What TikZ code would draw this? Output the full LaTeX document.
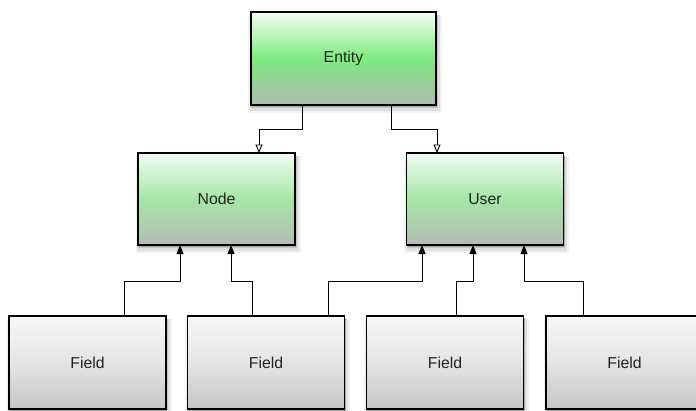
\documentclass[tikz,border=0pt]{standalone}
\usepackage{fontspec}
\setmainfont{Liberation Sans}
\usetikzlibrary{arrows.meta,shadows}

\definecolor{gtop}{HTML}{F4FFF4}
\definecolor{gmid}{HTML}{7EEA7E}
\definecolor{gbot}{HTML}{AEBBAE}
\definecolor{ltop}{HTML}{F2FBF2}
\definecolor{lmid}{HTML}{A6E6A6}
\definecolor{lbot}{HTML}{B3BCB3}
\definecolor{ftop}{HTML}{F8F8F8}
\definecolor{fmid}{HTML}{E4E4E4}
\definecolor{fbot}{HTML}{C6C6C6}
\definecolor{txt}{HTML}{222222}

\tikzset{
  softshadow/.style={
    drop shadow={shadow xshift=1.5pt,shadow yshift=-5pt,opacity=0.05,fill=black,shadow scale=1.05},
    drop shadow={shadow xshift=1.5pt,shadow yshift=-4pt,opacity=0.08,fill=black,shadow scale=1.03},
    drop shadow={shadow xshift=1pt,shadow yshift=-3pt,opacity=0.12,fill=black,shadow scale=1.01},
    drop shadow={shadow xshift=1pt,shadow yshift=-2pt,opacity=0.15,fill=black}},
  box/.style={draw=black,line width=1.1pt,inner sep=0pt,outer sep=0pt,
    text=txt,font=\fontsize{15.8}{18}\selectfont,softshadow},
  rootbox/.style={box,minimum width=185pt,minimum height=93pt,
    top color=gtop,bottom color=gbot,middle color=gmid},
  midbox/.style={box,minimum width=157pt,minimum height=92pt,
    top color=ltop,bottom color=lbot,middle color=lmid},
  fieldbox/.style={box,minimum width=157pt,minimum height=93pt,
    top color=ftop,bottom color=fbot,middle color=fmid},
  inherit/.style={draw=black,line width=0.9pt,
    -{Triangle[open,length=8.5pt,width=7pt,fill=white]}},
  member/.style={draw=black,line width=0.9pt,
    -{Triangle[length=9pt,width=7pt]}},
}

\begin{document}
\begin{tikzpicture}[x=1pt,y=-1pt]
  \useasboundingbox (0,0) rectangle (696,410);
  \clip (0,0) rectangle (696,410);

  % classes
  \node[rootbox] (entity) at (343.5,58.5) {Entity};
  \node[midbox]  (nd)     at (216.5,199)  {Node};
  \node[midbox]  (usr)    at (485,199)    {User};

  % fields
  \node[fieldbox] (f1) at (87.5,362.5) {Field};
  \node[fieldbox] (f2) at (266,362.5)  {Field};
  \node[fieldbox] (f3) at (445,362.5)  {Field};
  \node[fieldbox] (f4) at (624.5,362.5) {Field};

  % generalisation links
  \draw[inherit] ([xshift=-41.5pt]entity.south) -- ++(0,24) -| ([xshift=42.5pt]nd.north);
  \draw[inherit] ([xshift=47.5pt]entity.south) -- ++(0,24) -| ([xshift=-48pt]usr.north);

  % field links
  \draw[member] ([xshift=36.5pt]f1.north) -- ++(0,-35) -| ([xshift=-36.5pt]nd.south);
  \draw[member] ([xshift=-14pt]f2.north) -- ++(0,-35) -| ([xshift=14.5pt]nd.south);
  \draw[member] ([xshift=62pt]f2.north) -- ++(0,-35) -| ([xshift=-63pt]usr.south);
  \draw[member] ([xshift=11pt]f3.north) -- ++(0,-35) -| ([xshift=-12pt]usr.south);
  \draw[member] ([xshift=-41.5pt]f4.north) -- ++(0,-35) -| ([xshift=39pt]usr.south);
\end{tikzpicture}
\end{document}
